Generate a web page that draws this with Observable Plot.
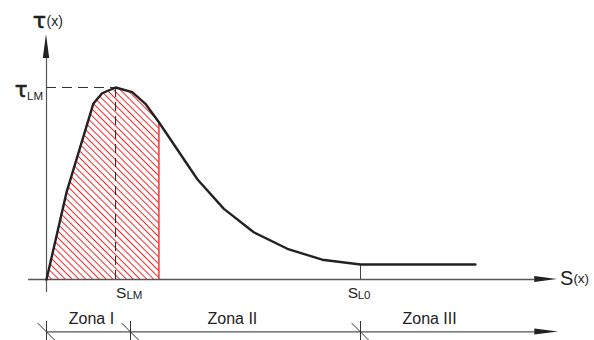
<!DOCTYPE html>
<html><head><meta charset="utf-8">
<script src="https://cdn.jsdelivr.net/npm/d3@7"></script>
<script src="https://cdn.jsdelivr.net/npm/@observablehq/plot@0.6"></script>
<style>
html,body{margin:0;padding:0;background:#fff}
#chart svg{display:block}
</style>
</head><body><div id="chart"></div>
<script>
// Bond stress–slip curve (slip in units where S_L0 = 10, stress normalised so τ_LM = 1)
const slip = [0, 0.64, 1.49, 1.77, 2.20, 2.73, 3.15, 3.58, 4.81, 5.65, 6.60, 7.67, 8.78, 10, 13.66];
const tau  = [0, 0.455, 0.915, 0.970, 1.0, 0.976, 0.915, 0.819, 0.521, 0.368, 0.246, 0.160, 0.103, 0.078, 0.078];
const sLM = 2.20;
const sL0 = 10;
const sHatchEnd = 3.58;
const tauHatchEnd = 0.819;
const tauL0 = 0.078;
const zoneBounds = [0, 2.675, 10];
const zoneNames = ["Zona I", "Zona II", "Zona III"];
const zoneLabelX = [1.43, 5.92, 12.20];

// axis / helper-line extents (data units)
const xAxisFrom = -0.57, xArrowBase = 15.55, xArrowTip = 16.27;
const yAxisFrom = -0.068, yArrowBase = 1.151, yArrowTip = 1.276;
const zoneY = -0.273, zoneArrowTip = 16.31, zoneTickTop = -0.219, zoneTickBot = -0.34;

const curve = slip.map((s, i) => ({s, t: tau[i]}));
const hatched = curve.filter(d => d.s <= sHatchEnd);

const FONT = "Liberation Sans, Arial, Helvetica, sans-serif";
const GREEK = "DejaVu Sans, Liberation Sans, sans-serif";
const AX = "#555";

const defsMark = () => {
  const defs = d3.create("svg:defs");
  const p = defs.append("pattern").attr("id", "hatch")
    .attr("patternUnits", "userSpaceOnUse").attr("width", 4.8).attr("height", 4.8)
    .attr("patternTransform", "rotate(45)");
  p.append("line").attr("x1", -1).attr("x2", 6).attr("y1", 2.4).attr("y2", 2.4)
    .attr("stroke", "#ff2020").attr("stroke-width", 1);
  return defs.node();
};

const decoMark = (index, scales) => {
  const sx = scales && scales.x ? scales.x : d3.scaleLinear([0, 10], [46, 360]);
  const sy = scales && scales.y ? scales.y : d3.scaleLinear([0, 1], [279, 87]);
  const g = d3.create("svg:g");
  const tri = (tx, ty, bx, by, hw) => {
    const dx = tx - bx, dy = ty - by, L = Math.hypot(dx, dy);
    const nx = -dy / L * hw, ny = dx / L * hw;
    g.append("path").attr("fill", "#222")
      .attr("d", `M${tx},${ty}L${bx + nx},${by + ny}L${bx - nx},${by - ny}Z`);
  };
  tri(sx(0), sy(yArrowTip), sx(0), sy(yArrowBase), 3.2);
  tri(sx(xArrowTip), sy(0), sx(xArrowBase), sy(0), 3);
  tri(sx(zoneArrowTip), sy(zoneY), sx(xArrowBase), sy(zoneY), 3);
  for (const b of zoneBounds) {
    const cx = sx(b), cy = sy(zoneY);
    g.append("line").attr("x1", cx - 8.3).attr("y1", cy - 8.3).attr("x2", cx + 8.6).attr("y2", cy + 8.6)
      .attr("stroke", "#333").attr("stroke-width", 1);
  }
  return g.node();
};

const chart = Plot.plot({
  width: 594,
  height: 340,
  margin: 0,
  style: {background: "#fff", fontFamily: FONT, color: "#222"},
  x: {domain: [0, 10], range: [46, 360], axis: null},
  y: {domain: [0, 1], range: [279, 87], axis: null},
  marks: [
    defsMark,
    Plot.areaY(hatched, {x: "s", y: "t", fill: "url(#hatch)", curve: "linear"}),
    Plot.ruleX([sHatchEnd], {y1: 0, y2: tauHatchEnd, stroke: "#ff2020", strokeWidth: 1.4}),
    // axes
    Plot.ruleY([0], {x1: xAxisFrom, x2: xArrowBase, stroke: AX, strokeWidth: 1.3}),
    Plot.ruleX([0], {y1: yAxisFrom, y2: yArrowBase, stroke: AX, strokeWidth: 1.2}),
    // dashed reference lines
    Plot.ruleY([1], {x1: 0, x2: sLM, stroke: "#333", strokeWidth: 1, strokeDasharray: "10,6"}),
    Plot.ruleX([sLM], {y1: 0, y2: 1, stroke: "#222", strokeWidth: 1, strokeDasharray: "9,5"}),
    Plot.ruleX([sL0], {y1: 0, y2: tauL0, stroke: "#444", strokeWidth: 1}),
    // curve
    Plot.line(curve, {x: "s", y: "t", stroke: "#222", strokeWidth: 2.4, strokeLinejoin: "round"}),
    // zone line
    Plot.ruleY([zoneY], {x1: 0, x2: xArrowBase, stroke: AX, strokeWidth: 1.3}),
    Plot.ruleX(zoneBounds, {y1: zoneTickTop, y2: zoneTickBot, stroke: "#333", strokeWidth: 1}),
    decoMark,
    // labels
    Plot.text(["τ"], {x: 0, y: yArrowTip, text: d => d, textAnchor: "end", dx: -0.5, dy: -13.5, fontSize: 22, fontFamily: GREEK, fill: "#222", stroke: "#222", strokeWidth: 0.6}),
    Plot.text(["(x)"], {x: 0, y: yArrowTip, text: d => d, textAnchor: "start", dx: 0, dy: -13, fontSize: 14, fill: "#222"}),
    Plot.text(["τ"], {x: 0, y: 1, text: d => d, textAnchor: "end", dx: -19, dy: 2.5, fontSize: 21, fontFamily: GREEK, fill: "#222", stroke: "#222", strokeWidth: 0.6}),
    Plot.text(["LM"], {x: 0, y: 1, text: d => d, textAnchor: "start", dx: -19.5, dy: 9.3, fontSize: 11.5, fill: "#222"}),
    Plot.text(["S"], {x: sLM, y: 0, text: d => d, textAnchor: "start", dx: 0.5, dy: 13.3, fontSize: 15.5, fill: "#222"}),
    Plot.text(["LM"], {x: sLM, y: 0, text: d => d, textAnchor: "start", dx: 10.8, dy: 15.6, fontSize: 11.5, fill: "#222"}),
    Plot.text(["S"], {x: sL0, y: 0, text: d => d, textAnchor: "start", dx: -12.8, dy: 13.3, fontSize: 15.5, fill: "#222"}),
    Plot.text(["L0"], {x: sL0, y: 0, text: d => d, textAnchor: "start", dx: -2.8, dy: 15.6, fontSize: 11.5, fill: "#222"}),
    Plot.text(["S"], {x: xArrowTip, y: 0, text: d => d, textAnchor: "start", dx: 2.5, dy: -1, fontSize: 20, fill: "#222"}),
    Plot.text(["(x)"], {x: xArrowTip, y: 0, text: d => d, textAnchor: "start", dx: 16, dy: -0.4, fontSize: 13.5, fill: "#222"}),
    Plot.text(zoneNames, {x: (d, i) => zoneLabelX[i], y: zoneY, text: d => d, textAnchor: "middle", dy: -13, fontSize: 16, fill: "#222"})
  ]
});
document.getElementById("chart").appendChild(chart);
</script>
</body></html>
